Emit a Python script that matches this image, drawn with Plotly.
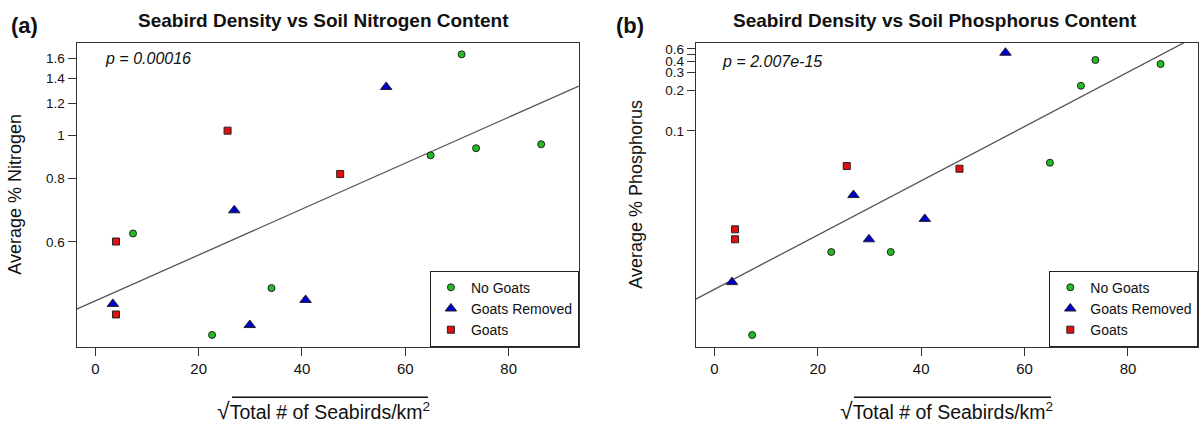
import numpy as np
import plotly.graph_objects as go

# ---------------- data ----------------
groups = ["No Goats", "Goats Removed", "Goats"]

x_no_goats = [7.3, 22.6, 34.1, 64.9, 70.9, 73.7, 86.3]
n_no_goats = [0.622, 0.419, 0.498, 0.899, 1.648, 0.933, 0.953]
p_no_goats = [0.0163, 0.0284, 0.0284, 0.066, 0.220, 0.420, 0.3745]

x_removed = [3.4, 26.9, 29.9, 40.7, 56.3]
n_removed = [0.469, 0.689, 0.434, 0.476, 1.327]
p_removed = [0.0228, 0.0466, 0.0314, 0.0373, 0.528]

x_goats = [4.0, 4.0, 25.6, 47.4]
n_goats = [0.601, 0.451, 1.026, 0.818]
p_goats = [0.0341, 0.0314, 0.0635, 0.0616]

# fitted line, value of the fit at x = 0 and x = 90
fit_x = [0, 90]
n_fit = [0.4743, 1.268]
p_fit = [0.0217, 0.6956]

n_ticks = [0.6, 0.8, 1, 1.2, 1.4, 1.6]
n_ticktext = ["0.6", "0.8", "1", "1.2", "1.4", "1.6"]
p_ticks = [0.1, 0.2, 0.3, 0.4, 0.6]
p_ticktext = ["0.1", "0.2", "0.3", "0.4", "0.6"]
p_unlabelled_ticks = [0.5]
x_ticks = [0, 20, 40, 60, 80]

n_pvalue = "p = 0.00016"
p_pvalue = "p = 2.007e-15"

# ---------------- helpers ----------------
W, H = 1199, 428
FONT = "Liberation Sans, Arial, sans-serif"


def tr(v):
    # axis scale used by the original figure (1/sqrt, drawn reversed)
    return 1.0 / np.sqrt(np.asarray(v, dtype=float))


def px(x):
    return x / W


def py(y):
    return 1 - y / H


colors = {"No Goats": "#22BB22", "Goats Removed": "#0000CC", "Goats": "#E01010"}
symbols = {"No Goats": "circle", "Goats Removed": "triangle-up", "Goats": "square"}
sizes = {"No Goats": 7, "Goats Removed": 10, "Goats": 7}

xs = {"No Goats": x_no_goats, "Goats Removed": x_removed, "Goats": x_goats}
ns = {"No Goats": n_no_goats, "Goats Removed": n_removed, "Goats": n_goats}
ps = {"No Goats": p_no_goats, "Goats Removed": p_removed, "Goats": p_goats}

fig = go.Figure()

XR = [-3.6, 93.6]


def fit_line(vals):
    t = tr(vals)
    slope, icpt = np.polyfit(fit_x, t, 1)
    xx = np.array(XR)
    return xx, icpt + slope * xx


for panel, (yvals, fitvals, xa, ya, leg) in enumerate([
        (ns, n_fit, "x", "y", "legend"),
        (ps, p_fit, "x2", "y2", "legend2")]):
    lx, ly = fit_line(fitvals)
    fig.add_trace(go.Scatter(x=lx, y=ly, mode="lines", xaxis=xa, yaxis=ya,
                             line=dict(color="#555555", width=1.3),
                             showlegend=False, hoverinfo="skip"))
    for g in groups:
        fig.add_trace(go.Scatter(
            x=xs[g], y=tr(yvals[g]), mode="markers", name=g,
            xaxis=xa, yaxis=ya, legend=leg,
            marker=dict(color=colors[g], symbol=symbols[g], size=sizes[g],
                        line=dict(color="#222222", width=1)),
            customdata=yvals[g],
            hovertemplate="x=%{x}<br>%{customdata}<extra>" + g + "</extra>"))

box_top, box_bot = 43.0, 346.7
left_box = (76.7, 578.9)
right_box = (695.8, 1198.3)

axis_common = dict(showline=True, mirror=True, linecolor="#333333", linewidth=1.3,
                   ticks="outside", ticklen=8, tickcolor="#333333", tickwidth=1.2,
                   showgrid=False, zeroline=False)

legend_common = dict(xanchor="right", yanchor="bottom", y=py(box_bot),
                     bordercolor="#222222", borderwidth=1, bgcolor="white",
                     font=dict(size=14, family=FONT, color="#111111"),
                     tracegroupgap=0, itemwidth=30)

fig.update_layout(
    width=W, height=H,
    margin=dict(l=0, r=0, t=0, b=0),
    paper_bgcolor="white", plot_bgcolor="white",
    font=dict(family=FONT, color="#111111"),
    xaxis=dict(domain=[px(left_box[0]), px(left_box[1])], range=XR,
               tickvals=x_ticks, tickfont=dict(size=15), anchor="y", **axis_common),
    yaxis=dict(domain=[py(box_bot), py(box_top)], range=[1.577, 0.748],
               tickvals=list(tr(n_ticks)), ticktext=n_ticktext,
               tickfont=dict(size=13.5), anchor="x", **axis_common),
    xaxis2=dict(domain=[px(right_box[0]), px(right_box[1])], range=XR,
                tickvals=x_ticks, tickfont=dict(size=15), anchor="y2", **axis_common),
    yaxis2=dict(domain=[py(box_bot), py(box_top)], range=[8.10, 1.154],
                tickvals=list(tr(p_ticks)), ticktext=p_ticktext,
                tickfont=dict(size=13.5), anchor="x2",
                minor=dict(tickvals=list(tr(p_unlabelled_ticks)), ticks="outside",
                           ticklen=8, tickcolor="#333333", tickwidth=1.2, showgrid=False),
                **axis_common),
    legend=dict(x=px(left_box[1]), **legend_common),
    legend2=dict(x=px(right_box[1]), **legend_common),
)

ann = []


def add_text(text, x, y, size, bold=False, xanchor="center", angle=0):
    ann.append(dict(text=("<b>%s</b>" % text) if bold else text,
                    x=px(x), y=py(y), xref="paper", yref="paper",
                    xanchor=xanchor, yanchor="middle", showarrow=False,
                    textangle=angle, font=dict(size=size, family=FONT, color="#111111")))


add_text("(a)", 25, 25, 22, bold=True)
add_text("(b)", 630, 25, 22, bold=True)
add_text("Seabird Density vs Soil Nitrogen Content", 323, 20, 19, bold=True)
add_text("Seabird Density vs Soil Phosphorus Content", 935, 20, 19, bold=True)
add_text("<i>%s</i>" % n_pvalue, 103.3, 59, 16, xanchor="left")
add_text("<i>%s</i>" % p_pvalue, 720, 61, 16, xanchor="left")
add_text("Average % Nitrogen", 15, 194.7, 18, angle=-90)
add_text("Average % Phosphorus", 636, 194.7, 18, angle=-90)
xlabel = "<span style='font-size:23px'>√</span>Total # of Seabirds/km<sup>2</sup>"
add_text(xlabel, 323.8, 411, 19.5)
add_text(xlabel, 946, 411, 19.5)
fig.update_layout(annotations=ann)

# overline of the square-root sign
for x0, x1 in [(232, 428), (854, 1051)]:
    fig.add_shape(type="line", xref="paper", yref="paper",
                  x0=px(x0), x1=px(x1), y0=py(397.3), y1=py(397.3),
                  line=dict(color="#111111", width=1.4))

fig.write_html("out.html",
               config={"displayModeBar": False},
               post_script="document.body.style.margin='0';"
                           "document.body.style.overflow='hidden';")
